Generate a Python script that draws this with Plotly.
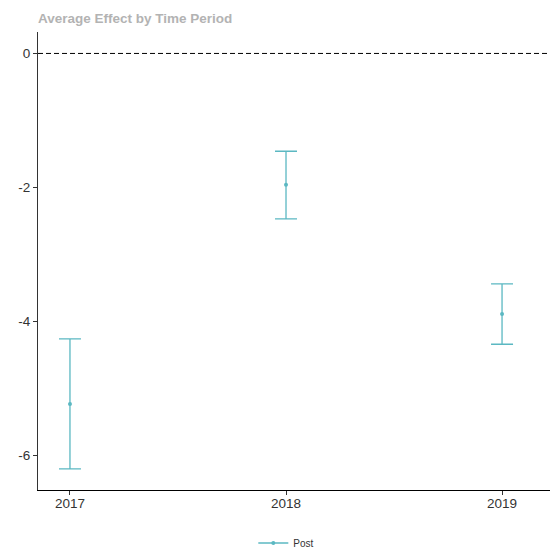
import plotly.graph_objects as go

# Estimated average effect per period with confidence interval bounds
years = [2017, 2018, 2019]
estimate = [-5.23, -1.96, -3.89]
upper = [-4.26, -1.46, -3.44]
lower = [-6.20, -2.47, -4.34]
series_name = "Post"

y_tickvals = [0, -2, -4, -6]
y_ticktext = ["0", "-2", "-4", "-6"]
x_tickvals = [2017, 2018, 2019]
x_ticktext = ["2017", "2018", "2019"]

color = "#5bb8c2"

err_plus = [u - e for u, e in zip(upper, estimate)]
err_minus = [e - l for e, l in zip(estimate, lower)]

fig = go.Figure()
fig.add_trace(go.Scatter(
    x=years, y=estimate, mode="markers", showlegend=False,
    marker=dict(color=color, size=4),
    error_y=dict(type="data", symmetric=False, array=err_plus, arrayminus=err_minus,
                 color=color, thickness=1.3, width=11),
))
# legend entry: line with dot
fig.add_trace(go.Scatter(
    x=[None], y=[None], mode="lines+markers", name=series_name,
    line=dict(color=color, width=1.3), marker=dict(color=color, size=4),
))

fig.add_hline(y=0, line=dict(color="black", width=1, dash="5px,3px"))

fig.update_layout(
    width=550, height=552,
    margin=dict(l=38, r=0, t=32, b=62, autoexpand=False),
    paper_bgcolor="white", plot_bgcolor="white",
    font=dict(family="Liberation Sans, Arial, sans-serif", color="#333333", size=12),
    title=dict(text="<b>Average Effect by Time Period</b>", x=38 / 550, xanchor="left",
               y=1 - 18 / 552, yanchor="middle",
               font=dict(size=13.5, color="#b3b3b3")),
    legend=dict(orientation="h", x=0.485, xanchor="center", yref="container",
                y=9 / 552, yanchor="middle",
                font=dict(size=10, color="#333333"), itemwidth=30),
    xaxis=dict(range=[2016.852, 2019.222], tickvals=x_tickvals, ticktext=x_ticktext,
               showgrid=False, zeroline=False, showline=True, linecolor="black", linewidth=1,
               ticks="outside", ticklen=4, tickcolor="#333333", mirror=False,
               ticklabelstandoff=-3,
               tickfont=dict(size=13.5, color="#333333")),
    yaxis=dict(range=[-6.515, 0.32], tickvals=y_tickvals, ticktext=y_ticktext,
               showgrid=False, zeroline=False, showline=True, linecolor="#333333", linewidth=1,
               ticks="outside", ticklen=4, tickcolor="#333333",
               tickfont=dict(size=13.5, color="#333333")),
)

fig.write_html("out.html")
